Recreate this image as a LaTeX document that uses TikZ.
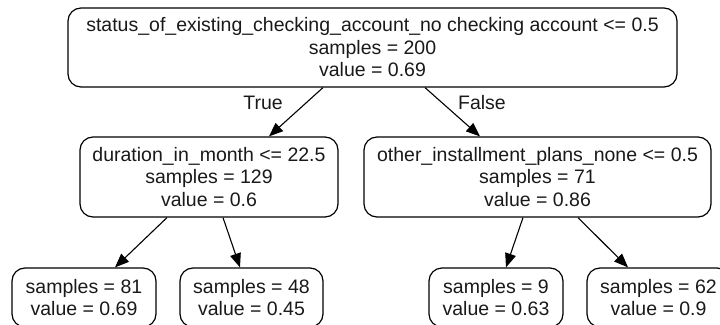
\documentclass[tikz,border=0pt]{standalone}
\usepackage{fontspec}
\setmainfont{Liberation Sans}
\usetikzlibrary{arrows.meta,calc}
\begin{document}
\begin{tikzpicture}[x=1pt,y=1pt,
  treenode/.style={draw, line width=1.2pt, rounded corners=13pt, align=center,
    inner sep=0pt, font={\fontsize{19.5}{22.5}\selectfont}, text=black!90},
  edgelabel/.style={font={\fontsize{19.5}{22.5}\selectfont}, text=black!90},
  link/.style={line width=1.1pt, -{Triangle[length=14pt,width=11pt]}}]
\clip (0,0) rectangle (720,-324);
\useasboundingbox (0,0) rectangle (720,-324);

% decision nodes
\node[treenode, minimum width=609pt, minimum height=79pt] (root) at (372.5,-47.5)
  {status\_of\_existing\_checking\_account\_no checking account <= 0.5\\ samples = 200\\ value = 0.69};
\node[treenode, minimum width=258pt, minimum height=80pt] (left) at (209,-177)
  {duration\_in\_month <= 22.5\\ samples = 129\\ value = 0.6};
\node[treenode, minimum width=347pt, minimum height=80pt] (right) at (537.5,-177)
  {other\_installment\_plans\_none <= 0.5\\ samples = 71\\ value = 0.86};

% leaves
\node[treenode, minimum width=144pt, minimum height=59pt] (leafa) at (84,-297.5)
  {samples = 81\\ value = 0.69};
\node[treenode, minimum width=143pt, minimum height=59pt] (leafb) at (251.5,-297.5)
  {samples = 48\\ value = 0.45};
\node[treenode, minimum width=134pt, minimum height=59pt] (leafc) at (496,-297.5)
  {samples = 9\\ value = 0.63};
\node[treenode, minimum width=143pt, minimum height=59pt] (leafd) at (658.5,-297.5)
  {samples = 62\\ value = 0.9};

% edges
\draw[link] ($(root.south)+(-49.5,0)$) -- ($(left.north)+(60,0)$);
\draw[link] ($(root.south)+(52.5,0)$) -- ($(right.north)+(-57.5,0)$);
\draw[link] ($(left.south)+(-42,0)$) -- ($(leafa.north)+(31,0)$);
\draw[link] ($(left.south)+(14,0)$) -- ($(leafb.north)+(-11.5,0)$);
\draw[link] ($(right.south)+(-14.5,0)$) -- ($(leafc.north)+(10,0)$);
\draw[link] ($(right.south)+(40.5,0)$) -- ($(leafd.north)+(-30.5,0)$);

% branch labels
\node[edgelabel] (truelbl) at (263,-103) {True};
\node[edgelabel] (falselbl) at (482,-103) {False};
\end{tikzpicture}
\end{document}
